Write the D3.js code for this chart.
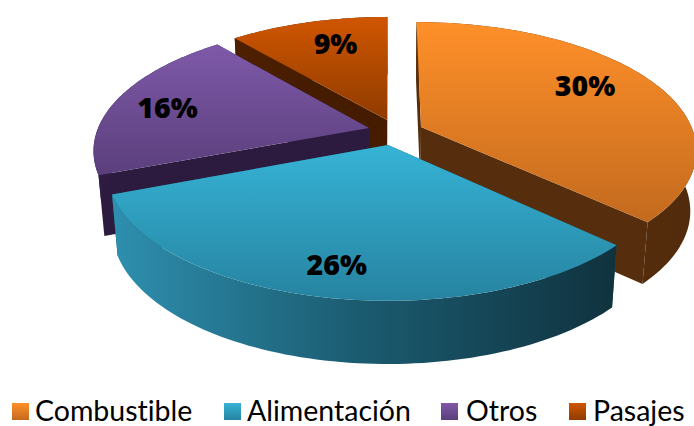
<!DOCTYPE html>
<html><head><meta charset="utf-8">
<script src="https://cdn.jsdelivr.net/npm/d3@7"></script>
<style>html,body{margin:0;padding:0;background:#fff}svg{display:block}</style>
</head><body><svg id="c" width="694" height="426"></svg>
<script>
const categories = ["Combustible","Alimentación","Otros","Pasajes"];
const values = [30,26,16,9];
const labels = ["30%","26%","16%","9%"];
const topLight = ["#FF9029","#36B3D6","#7E59A9","#D05600"];
const topDark  = ["#C36A1E","#2683A0","#5B3F7C","#8F3B00"];
const sideLeft = ["#5A300E","#2E8FAF","#2E1C42","#4D2000"];
const sideMid  = ["#562E0D","#1B5A6F","#2C1B3E","#461C00"];
const sideRight= ["#522B0C","#10323E","#2A1A3A","#3F1900"];

// layout
const W=694,H=426;
const cx=390, cy=131, rx0=272, ry0=124, persp=0.17, depth=60, baseScale=0.98;
const apexes=[[421,127],[388,145],[369,128],[387,120]];
const labelR=[0.742,0.82,0.785,0.74], labelTurn=[-5.5,0,-2.2,3];
const legendSwatch=[12,224,441,569], legendText=[35,247,466,593];

const project=(X,Y)=>{const w=1-persp*Y;return [cx+rx0*X/w, cy+ry0*Y/w, w];};
const unproject=([sx,sy])=>{const t=(sy-cy)/ry0;const Y=t/(1+persp*t);const w=1-persp*Y;return [(sx-cx)*w/rx0,Y];};
const lower=([x,y,w])=>[cx+(x-cx)*baseScale, y+depth/Math.pow(w,0.25)];

const svg=d3.select("#c");
const defs=svg.append("defs");
const line=d3.line();
const pie=d3.pie().sort(null).startAngle(0).endAngle(2*Math.PI)(values);

categories.forEach((c,i)=>{
  const g=defs.append("linearGradient").attr("id","top"+i).attr("x1",0).attr("x2",0).attr("y1",0).attr("y2",1);
  g.append("stop").attr("offset",0).attr("stop-color",topLight[i]);
  g.append("stop").attr("offset",1).attr("stop-color",topDark[i]);
  const s=defs.append("linearGradient").attr("id","side"+i).attr("x1",0).attr("x2",1).attr("y1",0).attr("y2",0);
  s.append("stop").attr("offset",0).attr("stop-color",sideLeft[i]);
  s.append("stop").attr("offset",0.5).attr("stop-color",sideMid[i]);
  s.append("stop").attr("offset",1).attr("stop-color",sideRight[i]);
});

const angles=d=>d3.range(0,81).map(k=>d.startAngle+(d.endAngle-d.startAngle)*k/80);
const order=[3,2,0,1];
order.forEach(i=>{
  const d=pie[i], [ox,oy]=unproject(apexes[i]);
  const P=(a,r=1)=>project(ox+r*Math.sin(a),oy-r*Math.cos(a));
  const apex=project(ox,oy);
  const rim=angles(d).map(a=>P(a));
  const g=svg.append("g");
  const quad=(a,b)=>[a,b,lower(b),lower(a)].map(p=>[p[0],p[1]]);
  [rim[0],rim[80]].forEach(r=>{
    g.append("path").attr("d",line(quad(apex,r))+"Z").attr("fill",sideMid[i]);
  });
  // back-left slices: the lower rim must not bulge past the straight end edge of the wall
  const a0=rim[0], b0=lower(rim[0]);
  const trim=p=>{
    if(d.startAngle<=Math.PI || p[1]<a0[1]) return p;
    const t=(p[1]-a0[1])/(b0[1]-a0[1]);
    return [Math.max(p[0],a0[0]+t*(b0[0]-a0[0])),p[1]];
  };
  g.append("path").attr("d",line(rim.map(p=>[p[0],p[1]]).concat(rim.slice().reverse().map(lower).map(trim)))+"Z")
    .attr("fill",`url(#side${i})`);
  g.append("path").attr("d",line([apex,...rim].map(p=>[p[0],p[1]]))+"Z").attr("fill",`url(#top${i})`);
});
order.forEach(i=>{
  const d=pie[i],[ox,oy]=unproject(apexes[i]);
  const m=(d.startAngle+d.endAngle)/2+labelTurn[i]*Math.PI/180;
  const p=project(ox+labelR[i]*Math.sin(m),oy-labelR[i]*Math.cos(m));
  svg.append("text").attr("x",p[0]).attr("y",p[1]+10).attr("text-anchor","middle")
    .attr("font-family","'Open Sans',sans-serif").attr("font-weight",800).attr("font-size",28.5).attr("fill","#000").text(labels[i]);
});
const lg=svg.append("g");
categories.forEach((c,i)=>{
  lg.append("rect").attr("x",legendSwatch[i]).attr("y",403).attr("width",17).attr("height",17).attr("fill",`url(#top${i})`);
  lg.append("text").attr("x",legendText[i]).attr("y",421).attr("font-family","Lato,sans-serif").attr("font-size",28.5)
    .style("font-variant-ligatures","none").attr("fill","#000").text(c);
});
</script></body></html>
